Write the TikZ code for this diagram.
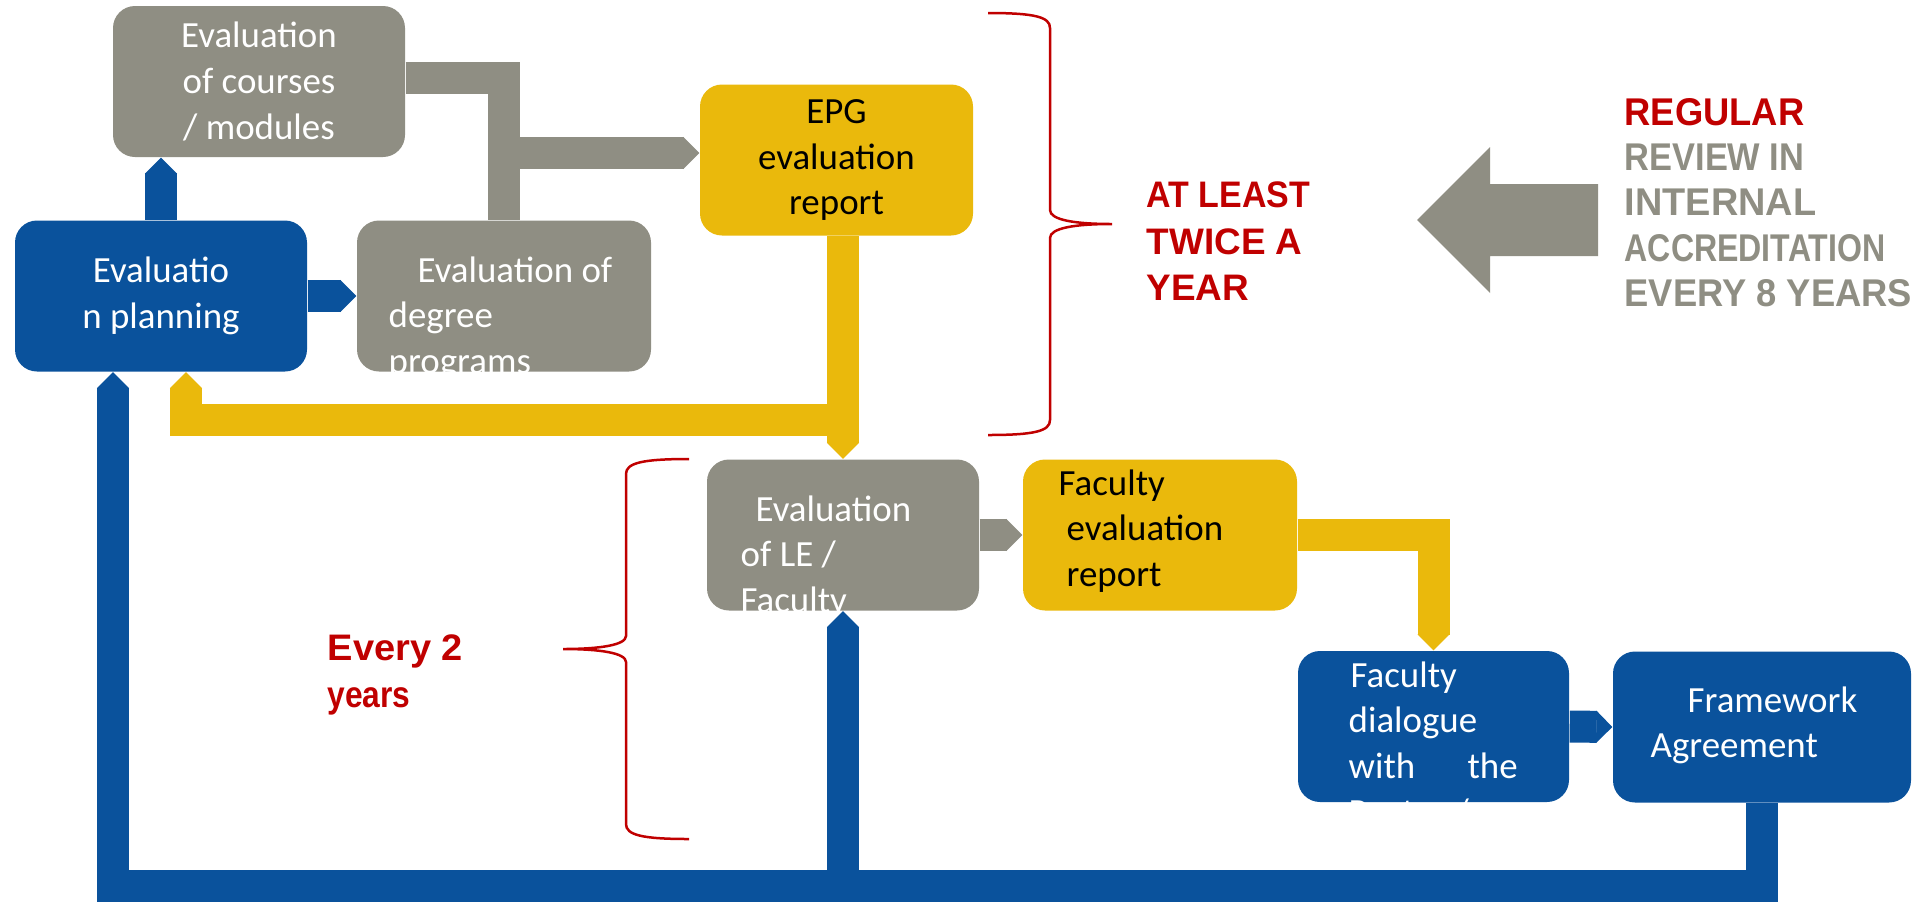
\documentclass[tikz,border=0pt]{standalone}
\usepackage{fontspec}
\usepackage{graphicx}
\setmainfont{Carlito}
\newfontfamily\headfont{Liberation Sans}
\usetikzlibrary{arrows.meta}

\definecolor{uniblue}{RGB}{10,82,156}
\definecolor{unigray}{RGB}{143,142,131}
\definecolor{uniyellow}{RGB}{234,185,12}
\definecolor{unired}{RGB}{192,0,0}

\newcommand\boxfont{\fontsize{10.5}{13.08}\selectfont}
\newcommand\notefont{\headfont\bfseries\fontsize{10.5}{13.37}\selectfont}
\newcommand\sidefont{\headfont\bfseries\fontsize{11}{12.94}\selectfont}
\newcommand\hsq[2]{\scalebox{#1}[1]{#2}}

\tikzset{
  box/.style={rounded corners=2.2mm, inner sep=0pt, minimum height=15.1mm, align=center, font=\boxfont},
  gbox/.style={box, fill=unigray, text=white},
  bbox/.style={box, fill=uniblue, text=white},
  ybox/.style={box, fill=uniyellow, text=black},
  boxtext/.style={inner sep=0pt, font=\boxfont, anchor=base west},
  conn/.style={line width=3.2mm},
  pointed/.style={-{Triangle[width=3.2mm,length=1.6mm,line width=0.4pt]}},
  brace/.style={unired, line width=0.25mm},
  note/.style={inner sep=0pt, anchor=base west, font=\notefont, text=unired},
}

\begin{document}
\begin{tikzpicture}[x=0.1mm,y=-0.1mm]
\useasboundingbox (0,0) rectangle (1926,902);
% boxes
\node[gbox, minimum width=29.2mm] (courses) at (259,81.5) {Evaluation\\of courses\\/ modules};
\node[bbox, minimum width=29.2mm] (plan) at (161,296) {Evaluatio\\n planning};
\node[gbox, minimum width=29.4mm] (degree) at (504,296) {};
\node[ybox, minimum width=27.3mm] (EPG) at (836.5,160) {EPG\\evaluation\\report};
\node[gbox, minimum width=27.2mm] (LE) at (843,535) {};
\node[ybox, minimum width=27.4mm] (FR) at (1160,535) {};
\node[bbox, minimum width=27.1mm] (FD) at (1433.5,726.5) {};
\node[bbox, minimum width=29.8mm] (FW) at (1762,727) {};
% texts that run past the box bottom
\begin{scope}
\clip (degree.south west) rectangle (degree.north east);
\node[boxtext, text=white] (degtext) at (388,282) {\parbox[t]{30mm}{\hspace*{2.9mm}Evaluation of\\degree\\programs}};
\end{scope}
\begin{scope}
\clip (LE.south west) rectangle (LE.north east);
\node[boxtext, text=white] (letext) at (740,521) {\parbox[t]{25mm}{\hspace*{1.5mm}Evaluation\\of LE /\\Faculty}};
\end{scope}
\begin{scope}
\clip (FD.south west) rectangle (FD.north east);
\node[boxtext, text=white] (fdtext) at (1348,687) {\parbox[t]{22mm}{\hspace*{0.2mm}Faculty\\dialogue\\\makebox[16.9mm][s]{with the}\\Rector /}};
\end{scope}
\node[boxtext, text=black] (frtext) at (1058,495) {\parbox[t]{22mm}{Faculty\\\hspace*{0.8mm}evaluation\\\hspace*{0.8mm}report}};
\node[boxtext, text=white] (fwtext) at (1650,712) {\parbox[t]{25mm}{\hspace*{3.7mm}Framework\\Agreement}};
% connectors
\coordinate (coursesout) at ([yshift=0.35mm]courses.east);
\coordinate (epgin) at ([yshift=0.7mm]EPG.west);
\coordinate (ylevel) at (0,420);
\coordinate (blevel) at (0,886);
\coordinate (ybend) at ([xshift=2.5mm]plan.south);
\coordinate (bbend) at ([xshift=-4.8mm]plan.south);
\draw[conn, unigray] (coursesout) -| (degree.north);
\draw[conn, unigray, pointed] (epgin -| degree.north) -- (epgin);
\draw[conn, uniblue, pointed] (plan.north) -- (plan.north |- courses.south);
\draw[conn, uniblue, pointed] (plan.east) -- (degree.west);
\draw[conn, uniyellow, pointed] (EPG.south -| LE.north) -- (LE.north);
\draw[conn, uniyellow, pointed] (LE.north |- ylevel) -| (ybend);
\draw[conn, unigray, pointed] (LE.east) -- (FR.west);
\draw[conn, uniyellow, pointed] (FR.east) -| (FD.north);
\draw[conn, uniblue, pointed] (FD.east) -- (FW.west);
\draw[conn, uniblue, pointed] (FW.south) |- (bbend |- blevel) -- (bbend);
\draw[conn, uniblue, pointed] (LE.south |- blevel) -- (LE.south);
% braces
\draw[brace] (988,13) .. controls (1035,13) and (1050,17) .. (1050,28) -- (1050,210)
  .. controls (1050,220) and (1075,224) .. (1112,224) .. controls (1075,224) and (1050,228) .. (1050,238)
  -- (1050,420) .. controls (1050,431) and (1035,435) .. (988,435);
\draw[brace] (689,459) .. controls (642,459) and (626,463) .. (626,474) -- (626,636)
  .. controls (626,645) and (600,649) .. (563,649) .. controls (600,649) and (626,653) .. (626,662)
  -- (626,824) .. controls (626,835) and (642,839) .. (689,839);
% big arrow
\fill[unigray] (1598,184) -- (1490,184) -- (1490,147) -- (1417,220) -- (1490,293) -- (1490,256) -- (1598,256) -- cycle;
% labels
\node[note] (twice) at (1146,207) {\parbox[t]{30mm}{\hsq{0.92}{AT LEAST}\\TWICE A\\YEAR}};
\node[note] (every) at (327,660) {\parbox[t]{20mm}{\hsq{1.03}{Every 2}\\\hsq{0.86}{years}}};
\node[note, font=\sidefont] (review) at (1624,125) {\parbox[t]{32mm}{\hsq{0.94}{REGULAR}\\\textcolor{unigray}{\hsq{0.89}{REVIEW IN}}\\\textcolor{unigray}{\hsq{0.98}{INTERNAL}}\\\textcolor{unigray}{\hsq{0.83}{ACCREDITATION}}\\\textcolor{unigray}{\hsq{0.94}{EVERY 8 YEARS}}}};
\end{tikzpicture}
\end{document}
